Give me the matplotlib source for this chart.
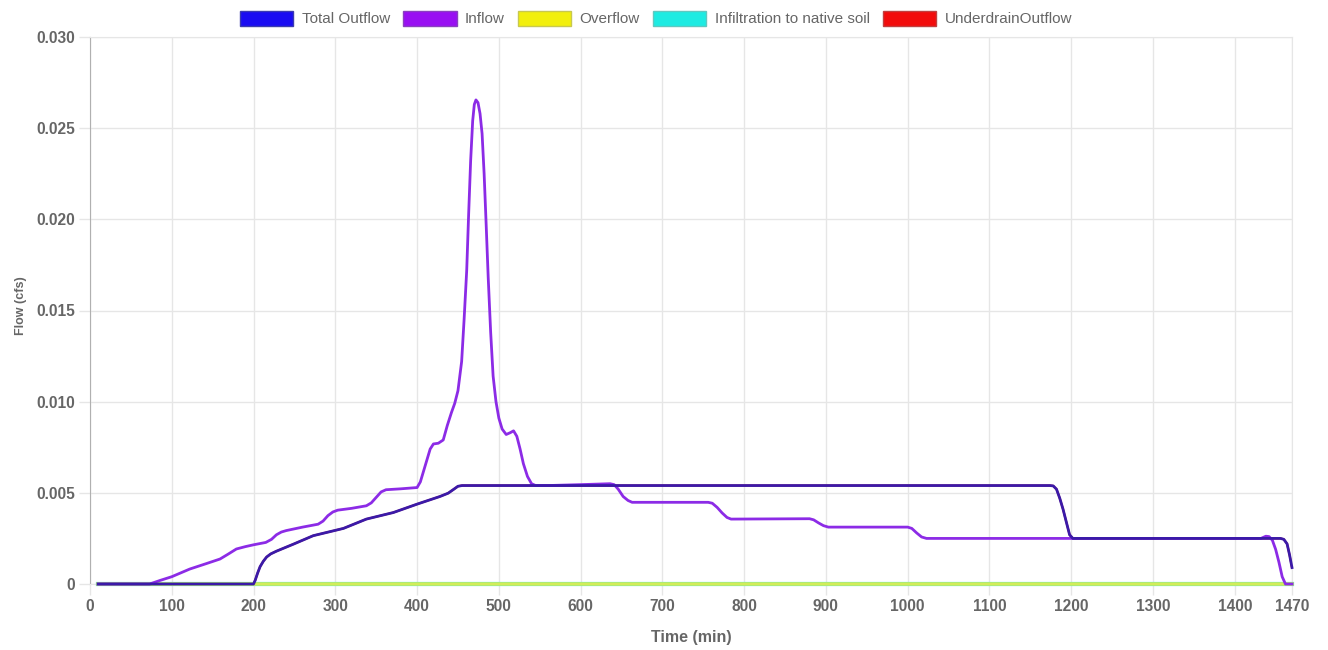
import matplotlib.pyplot as plt
from matplotlib.patches import Patch

plt.rcParams['font.family'] = ['Liberation Sans', 'DejaVu Sans']

# Inflow (cfs), in matching rows of time / value
inflow_t = [10, 73, 86, 100, 122, 143, 159, 169, 179, 190,
            200, 215, 222, 228, 234, 240, 260, 279, 285, 291,
            297, 303, 320, 338, 344, 350, 356, 362, 380, 400,
            404, 410, 416, 420, 426, 432, 437, 442, 446, 450,
            454.5, 457.5, 460.7, 463, 465.5, 468, 470, 472, 474.5, 477,
            479.5, 482, 484.5, 487, 490, 493, 496.5, 500, 504, 509,
            514, 518, 522, 526, 530, 535, 540, 545, 560, 600,
            636, 641, 646, 652, 658, 663, 700, 756, 761, 767,
            773, 779, 784, 880, 885, 891, 897, 903, 1000, 1005,
            1011, 1017, 1023, 1100, 1200, 1300, 1400, 1432, 1438, 1442,
            1446, 1450, 1454, 1458, 1462, 1470]
inflow = [0, 0, 0.0002, 0.0004, 0.00082, 0.00113, 0.00137, 0.00164, 0.00192, 0.00205,
          0.00215, 0.00228, 0.00245, 0.0027, 0.00285, 0.00293, 0.00312, 0.00328, 0.00345, 0.00375,
          0.00395, 0.00405, 0.00415, 0.00429, 0.00445, 0.00475, 0.00505, 0.00517, 0.00522, 0.00529,
          0.0056, 0.0065, 0.0074, 0.00768, 0.00772, 0.0079, 0.0087, 0.0094, 0.0099, 0.0106,
          0.0122, 0.0145, 0.0172, 0.0202, 0.0232, 0.0254, 0.0263, 0.02655, 0.0264, 0.0258,
          0.0247, 0.0225, 0.0197, 0.0168, 0.0138, 0.0114, 0.0100, 0.0091, 0.0085, 0.0082,
          0.0083, 0.0084, 0.0081, 0.0074, 0.0066, 0.0059, 0.0055, 0.0054, 0.0054, 0.00545,
          0.0055, 0.00545, 0.0052, 0.0048, 0.00458, 0.00448, 0.00448, 0.00448, 0.00443, 0.0042,
          0.0039, 0.00365, 0.00356, 0.00358, 0.00352, 0.00335, 0.0032, 0.00312, 0.00312, 0.00305,
          0.0028, 0.00258, 0.0025, 0.0025, 0.0025, 0.0025, 0.0025, 0.0025, 0.00262, 0.0026,
          0.0024, 0.0019, 0.0012, 0.0004, 0, 0]

# Total outflow (cfs); underdrain outflow is the same series
outflow_t = [10, 200, 202, 205, 208, 212, 216, 221, 228, 249,
             273, 310, 338, 371, 400, 428, 438, 445, 450, 455,
             600, 800, 1000, 1174, 1178, 1182, 1186, 1190, 1194, 1198,
             1202, 1300, 1400, 1456, 1460, 1464, 1467, 1470]
total_outflow = [0, 0, 0.0002, 0.0006, 0.00095, 0.00125, 0.00148, 0.00165, 0.0018, 0.00219,
                 0.00265, 0.00305, 0.00356, 0.00392, 0.00438, 0.0048, 0.00498, 0.0052, 0.00536, 0.0054,
                 0.0054, 0.0054, 0.0054, 0.0054, 0.00538, 0.0052, 0.0047, 0.0041, 0.0034, 0.0027,
                 0.0025, 0.0025, 0.0025, 0.0025, 0.00245, 0.0022, 0.0016, 0.0009]
underdrain_outflow = total_outflow

zero_t = [10, 1470]
overflow = [0, 0]
infiltration = [0, 0]

x_ticks = [0, 100, 200, 300, 400, 500, 600, 700, 800, 900, 1000, 1100, 1200, 1300, 1400, 1470]
y_ticks = [0, 0.005, 0.010, 0.015, 0.020, 0.025, 0.030]
y_labels = ['0', '0.005', '0.010', '0.015', '0.020', '0.025', '0.030']

names = ['Total Outflow', 'Inflow', 'Overflow', 'Infiltration to native soil', 'UnderdrainOutflow']
box_colors = ['#1a0cf2', '#990ff2', '#f2ef0c', '#1debe2', '#f20c0c']
box_edges = ['#3b3bb0', '#8a40c0', '#c8c850', '#60c8c0', '#c04040']

fig = plt.figure(figsize=(13.28, 6.5), dpi=100)
ax = fig.add_axes([90 / 1328, 1 - 584 / 650, 1202 / 1328, 547 / 650])

ax.plot(outflow_t, underdrain_outflow, color='#f20c0c', lw=1.5, zorder=2)
ax.plot(zero_t, infiltration, color='#1debe2', lw=3, zorder=3, clip_on=False)
ax.plot(zero_t, overflow, color='#d2ec5a', lw=2.6, zorder=4, clip_on=False)
ax.plot(inflow_t, inflow, color='#8c2be6', lw=2, zorder=5, solid_joinstyle='round',
        clip_on=False)
ax.plot(outflow_t, total_outflow, color='#3a1aa8', lw=2, zorder=6, solid_joinstyle='round',
        clip_on=False)

ax.set_xlim(0, 1470)
ax.set_ylim(0, 0.030)
ax.set_xticks(x_ticks)
ax.set_xticklabels([str(t) for t in x_ticks])
ax.set_yticks(y_ticks)
ax.set_yticklabels(y_labels)
ax.grid(True, color='#e6e6e6', lw=1)
ax.set_axisbelow(True)
for side in ['top', 'right', 'bottom']:
    ax.spines[side].set_color('#e6e6e6')
ax.spines['left'].set_color('#b0b0b0')
ax.tick_params(axis='both', length=8, width=1, color='#e6e6e6', labelcolor='#666666',
               labelsize=11.2, pad=3)
for lab in ax.get_xticklabels() + ax.get_yticklabels():
    lab.set_fontweight('bold')

ax.set_xlabel('Time (min)', fontsize=11.5, fontweight='bold', color='#666666', labelpad=11)
ax.set_ylabel('Flow (cfs)', fontsize=9, fontweight='bold', color='#666666')
ax.yaxis.set_label_coords(-63 / 1202, 0.508)

handles = [Patch(facecolor=c, edgecolor=e, lw=1) for c, e in zip(box_colors, box_edges)]
leg = fig.legend(handles, names, loc='upper center', bbox_to_anchor=(0.494, 1.005), ncol=5,
                 frameon=False, fontsize=11, handlelength=3.5, handleheight=1.2,
                 handletextpad=0.55, columnspacing=0.85)
for t in leg.get_texts():
    t.set_color('#666666')

fig.savefig('out.png', dpi=100)
